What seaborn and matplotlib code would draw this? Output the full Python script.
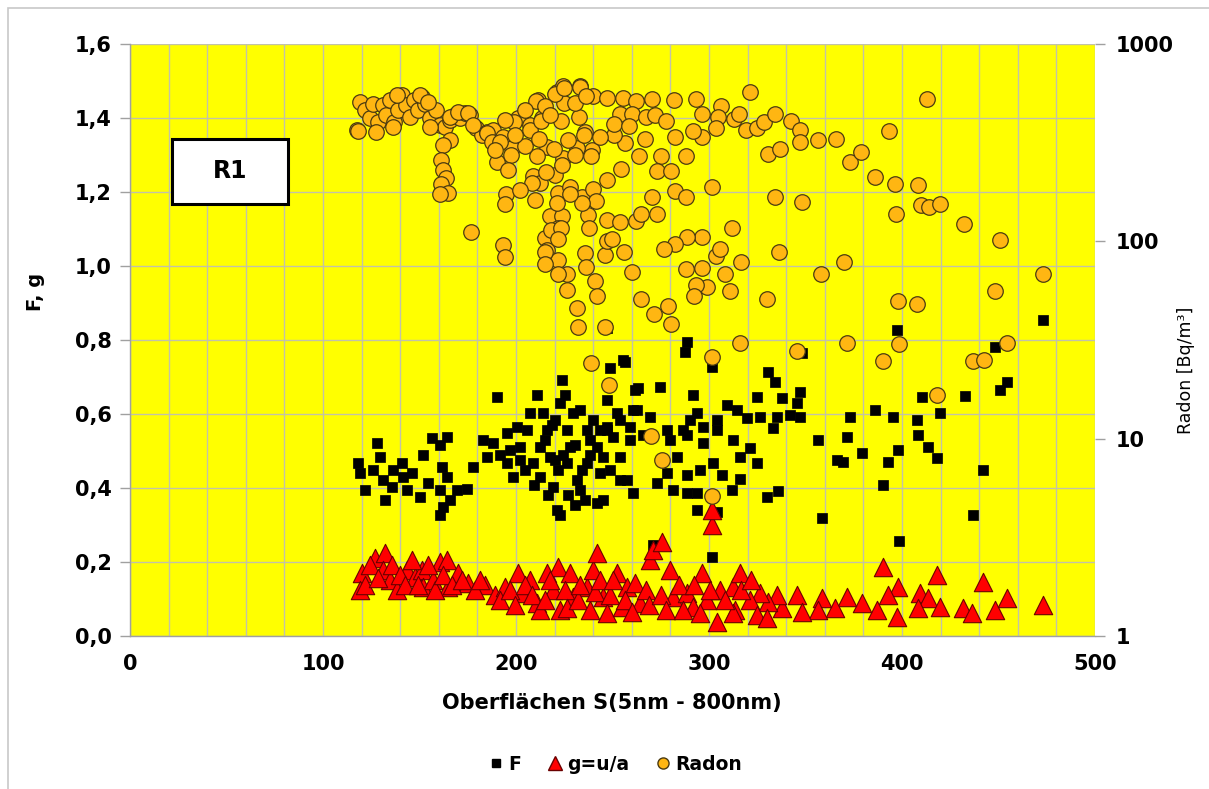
import matplotlib
matplotlib.use("Agg")
import matplotlib.pyplot as plt
from matplotlib.patches import Rectangle
from matplotlib.lines import Line2D
from matplotlib.ticker import FixedLocator, MultipleLocator, FuncFormatter, NullFormatter
import seaborn as sns
import pandas as pd

# ---------------- data ----------------
radon_x = [117.6,119.2,121.8,124.4,125.9,128.5,131.1,132.6,134.7,136.8,138.9,140.9,143.0,145.1,147.2,149.2,151.3,152.8,155.4,158.5,
           160.6,163.2,165.8,168.4,171.0,173.6,176.2,179.3,182.4,185.0,188.1,
           118.1,127.5,136.3,138.3,150.3,154.4,155.4,165.8,170.0,175.1,177.7,185.0,187.6,193.3,197.9,201.0,207.3,211.4,213.5,
           221.2,224.4,233.2,235.8,239.4,231.6,224.4,216.1,208.8,212.4,220.2,221.8,228.0,234.2,237.3,217.6,223.8,221.8,215.0,216.1,
           221.8,226.4,235.8,231.6,240.9,
           165.8,162.2,161.1,162.2,163.7,161.1,164.8,160.6,190.2,194.8,176.7,193.3,
           321.2,413.0,393.3,356.5,365.8,330.6,336.8,373.0,378.8,386.0,396.4,408.3,334.2,348.2,396.9,409.8,414.0,419.7,432.1,450.8,
           301.6,311.9,336.3,370.0,358.0,473.0,448.2,397.9,407.8,330.0,310.9,316.6,308.3,303.6,305.7,299.0,293.3,292.2,296.4,288.1,
           296.4,288.6,282.4,276.7,260.1,256.0,246.1,236.3,226.4,221.8,242.0,264.8,271.5,278.8,280.3,232.1,246.1,194.3,194.3,215.0,
           215.0,218.1,223.3,221.8,237.8,247.2,253.9,262.2,264.8,247.2,249.7,270.5,273.1,282.4,288.1,
           306.2,304.7,313.0,315.5,319.2,324.9,328.5,334.2,342.5,347.2,347.2,296.4,296.4,291.7,303.6,282.4,288.1,275.1,273.1,280.3,
           263.7,266.8,254.4,256.5,250.8,243.5,235.2,238.9,247.2,239.9,241.5,234.2,228.0,221.2,208.3,215.5,223.8,230.6,226.9,219.7,
           210.9,204.7,197.4,191.7,199.0,207.3,211.9,213.0,223.3,232.6,224.9,220.2,224.9,233.2,239.9,247.2,255.4,262.2,270.5,281.9,
           293.3,253.9,260.1,267.4,272.0,277.7,250.8,258.5,210.4,215.0,230.6,236.3,
           195.9,202.0,209.8,199.5,204.7,217.6,194.3,189.1,
           248.2,238.9,270.0,275.6,301.6,301.6,316.1,345.6,371.5,390.2,398.4,418.1,436.8,442.5,454.4]
radon_v = [367,509,463,422,497,403,491,437,521,403,463,552,491,427,521,463,540,497,422,463,
           389,380,412,437,422,448,437,376,346,358,367,
           363,358,380,552,552,509,380,427,453,448,389,354,319,338,298,422,389,521,422,
           572,615,615,358,291,298,264,301,215,198,217,176,189,168,136,134,134,117,104,90,
           80,68,87,46,63,
           326,308,259,230,210,195,176,174,253,174,112,96,
           572,527,363,326,330,277,294,253,284,212,195,193,168,158,138,153,149,155,122,102,
           189,117,88,79,68,68,56,50,48,51,56,79,68,84,91,59,60,53,73,72,
           105,105,97,91,70,88,85,74,57,68,53,51,43,47,38,37,37,83,155,88,
           77,114,117,103,117,128,125,127,138,100,103,168,138,180,168,
           486,427,417,442,367,376,403,442,408,367,319,442,338,363,376,338,271,271,228,228,
           271,330,233,315,346,338,346,271,205,184,160,157,174,157,198,225,244,274,326,294,
           271,305,274,319,403,367,330,408,408,427,503,559,600,606,546,533,533,515,527,521,
           527,442,442,427,437,408,394,385,515,486,503,546,
           230,182,162,346,463,437,412,291,
           18.7,24.2,10.3,7.8,5.1,26,30.5,27.8,30.5,24.8,30.2,16.7,24.8,25,30.5]

f_x = [118.1,119.2,121.8,128.0,129.5,125.9,131.1,132.1,135.8,136.3,140.9,141.5,143.5,146.1,150.3,151.8,154.4,156.5,160.6,164.2,
       161.7,164.2,160.6,162.2,165.8,160.6,169.4,174.6,177.7,182.9,185.0,188.1,190.2,195.3,195.3,198.4,200.5,202.1,205.7,207.3,
       208.8,212.4,212.4,214.0,216.1,217.6,219.2,221.2,222.8,223.8,226.4,226.4,228.0,229.5,231.6,233.2,236.8,236.8,239.9,242.0,
       243.5,242.0,247.2,247.2,248.7,252.3,253.9,255.4,257.5,259.1,260.6,261.7,262.7,
       247.2,256.5,288.6,287.6,301.6,263.2,274.6,291.7,324.9,330.6,334.2,337.8,347.2,345.6,347.2,342.0,326.4,319.7,309.3,314.5,
       304.1,293.8,290.2,296.9,286.5,278.2,269.4,260.6,253.9,247.2,250.3,259.1,265.8,279.8,288.6,296.9,304.1,312.4,321.2,333.2,
       335.2,324.9,316.1,306.7,316.1,311.9,302.1,295.3,288.6,283.4,278.2,273.1,281.3,288.6,293.8,293.8,304.1,253.9,248.7,245.1,
       245.1,330.0,335.8,356.5,371.5,373.0,379.3,366.3,369.4,386.0,395.3,397.9,392.7,390.2,358.5,397.4,410.4,407.8,408.3,413.5,
       418.1,419.7,432.6,442.0,436.8,398.4,448.2,450.8,454.4,473.0,301.6,271.0,348.2,
       215.0,218.7,221.8,224.4,230.6,234.2,238.3,220.2,216.6,209.3,204.7,226.9,235.8,230.6,222.8,202.0,191.7,196.9,238.3,243.5,
       233.2,225.5,220.2,210.9]
f_v = [0.468,0.441,0.395,0.522,0.484,0.449,0.422,0.368,0.403,0.449,0.468,0.430,0.395,0.441,0.376,0.489,0.414,0.535,0.516,0.538,
       0.457,0.430,0.395,0.349,0.368,0.327,0.395,0.397,0.457,0.530,0.484,0.522,0.646,0.549,0.468,0.430,0.565,0.511,0.557,0.603,
       0.468,0.511,0.430,0.603,0.557,0.484,0.403,0.341,0.630,0.692,0.557,0.468,0.511,0.603,0.422,0.395,0.557,0.468,0.584,0.511,
       0.441,0.359,0.638,0.557,0.724,0.603,0.484,0.746,0.422,0.530,0.386,0.665,0.611,
       0.832,0.741,0.795,0.768,0.727,0.670,0.673,0.651,0.646,0.714,0.686,0.643,0.659,0.630,0.592,0.597,0.592,0.589,0.624,0.611,
       0.584,0.603,0.584,0.565,0.557,0.557,0.592,0.611,0.584,0.565,0.538,0.565,0.543,0.530,0.543,0.522,0.557,0.530,0.508,0.562,
       0.592,0.468,0.484,0.435,0.424,0.395,0.468,0.449,0.435,0.484,0.441,0.414,0.395,0.386,0.386,0.341,0.335,0.422,0.449,0.484,
       0.368,0.376,0.392,0.530,0.538,0.592,0.495,0.476,0.470,0.611,0.592,0.503,0.470,0.408,0.319,0.827,0.646,0.584,0.543,0.511,
       0.481,0.603,0.649,0.449,0.327,0.257,0.781,0.665,0.686,0.854,0.214,0.246,0.765,
       0.530,0.570,0.449,0.489,0.516,0.449,0.489,0.476,0.381,0.408,0.449,0.381,0.368,0.354,0.327,0.476,0.489,0.503,0.530,0.557,
       0.611,0.651,0.584,0.651]

g_x = [120.2,119.2,126.9,132.1,131.1,134.7,138.3,143.5,147.7,151.3,151.8,157.0,160.6,164.2,164.8,169.9,175.1,183.9,189.1,194.3,
       201.0,203.1,207.3,210.9,212.4,216.1,219.2,221.8,222.8,228.0,229.5,236.8,239.9,242.0,245.1,247.2,252.3,254.9,257.5,261.7,
       264.2,269.4,271.0,275.6,279.8,281.3,288.6,291.7,296.4,299.0,301.6,301.6,304.1,305.7,312.4,313.5,316.1,
       390.2,418.1,442.0,397.9,392.7,409.3,413.5,408.3,419.7,397.4,387.0,379.3,371.5,365.3,358.5,356.5,345.6,337.8,348.2,335.2,
       330.6,326.4,321.2,324.9,330.0,312.4,431.6,436.3,448.2,454.4,473.0,
       121.8,124.4,128.5,135.8,140.0,142.5,146.1,149.2,154.4,158.0,162.2,166.8,172.0,178.8,181.3,
       191.7,196.9,199.5,204.7,208.3,215.0,217.6,225.6,226.4,232.1,233.2,238.3,240.9,243.5,248.7,250.3,256.5,260.1,267.4,269.0,
       275.1,277.7,284.4,286.5,292.2,295.3,300.5,308.3,316.6,321.8]
g_v = [0.170,0.124,0.211,0.224,0.178,0.151,0.124,0.178,0.159,0.178,0.132,0.151,0.200,0.205,0.132,0.170,0.143,0.138,0.111,0.132,
       0.170,0.116,0.151,0.089,0.070,0.170,0.124,0.186,0.070,0.170,0.105,0.132,0.178,0.224,0.105,0.062,0.170,0.078,0.132,0.143,
       0.089,0.205,0.232,0.254,0.178,0.105,0.116,0.078,0.170,0.097,0.300,0.341,0.038,0.124,0.132,0.070,0.170,
       0.186,0.165,0.146,0.132,0.111,0.116,0.103,0.076,0.078,0.051,0.070,0.089,0.105,0.076,0.103,0.070,0.111,0.076,0.065,0.111,
       0.092,0.116,0.097,0.057,0.049,0.062,0.076,0.062,0.070,0.103,0.084,
       0.138,0.192,0.157,0.192,0.165,0.138,0.205,0.138,0.192,0.124,0.165,0.138,0.151,0.124,0.151,
       0.097,0.124,0.084,0.138,0.111,0.097,0.151,0.124,0.076,0.097,0.138,0.070,0.119,0.151,0.111,0.151,0.097,0.065,0.124,0.084,
       0.111,0.070,0.138,0.070,0.138,0.062,0.124,0.097,0.124,0.151]

x_ticks = [0, 100, 200, 300, 400, 500]
left_ticks = [0.0, 0.2, 0.4, 0.6, 0.8, 1.0, 1.2, 1.4, 1.6]
right_ticks = [1, 10, 100, 1000]
legend_labels = ["F", "g=u/a", "Radon"]
box_label = "R1"

# ---------------- styling ----------------
sns.set_style("white")
plt.rcParams['font.family'] = ['DejaVu Sans']
plt.rcParams['text.color'] = 'black'
plt.rcParams['axes.labelcolor'] = 'black'

YELLOW = "#FFFF00"
GRID = "#C2C2A8"
AXC = "#A0A0A0"
ORANGE = "#FFB612"
OEDGE = "#4A3A10"

fig = plt.figure(figsize=(12.09, 7.89), dpi=100)
ax = fig.add_axes([130/1209, 1-636/789, 965/1209, 592/789])
ax.set_facecolor(YELLOW)

df_f = pd.DataFrame({"x": f_x, "v": f_v})
df_g = pd.DataFrame({"x": g_x, "v": g_v})
df_r = pd.DataFrame({"x": radon_x, "v": radon_v})

sns.scatterplot(data=df_f, x="x", y="v", ax=ax, marker="s", s=62, color="black",
                edgecolor="black", linewidth=0.5, zorder=3, legend=False)
sns.scatterplot(data=df_g, x="x", y="v", ax=ax, marker="^", s=175, color="#FF0000",
                edgecolor="#6A0000", linewidth=0.8, zorder=4, legend=False)

ax.set_xlim(0, 500)
ax.set_ylim(0, 1.6)
ax.xaxis.set_major_locator(FixedLocator(x_ticks))
ax.xaxis.set_minor_locator(MultipleLocator(20))
ax.yaxis.set_major_locator(FixedLocator(left_ticks))
ax.yaxis.set_major_formatter(FuncFormatter(lambda v, p: f"{v:.1f}".replace(".", ",")))
ax.grid(True, which="both", axis="x", color=GRID, linewidth=1.0, zorder=0)
ax.grid(True, which="major", axis="y", color=GRID, linewidth=1.0, zorder=0)
ax.set_axisbelow(True)
ax.tick_params(axis="both", which="major", direction="out", length=7, width=1, color=AXC,
               labelcolor="black", labelsize=15, pad=6)
ax.tick_params(axis="x", which="minor", length=0)
for lbl in ax.get_xticklabels() + ax.get_yticklabels():
    lbl.set_fontweight("bold")
for sp in ["top", "right"]:
    ax.spines[sp].set_visible(False)
for sp in ["left", "bottom"]:
    ax.spines[sp].set_color(AXC)
    ax.spines[sp].set_linewidth(1)

ax.set_xlabel("Oberflächen S(5nm - 800nm)", fontsize=15, fontweight="bold", color="black")
ax.xaxis.set_label_coords((612-130)/965, -(693-636)/592)
ax.set_ylabel("F, g", fontsize=14, fontweight="bold", color="black")
ax.yaxis.set_label_coords(-(130-45)/965, (636-292)/592)

# Radon on log right axis
ax2 = ax.twinx()
sns.scatterplot(data=df_r, x="x", y="v", ax=ax2, marker="o", s=125, color=ORANGE,
                edgecolor=OEDGE, linewidth=0.9, zorder=5, legend=False)
ax2.set_yscale("log")
ax2.set_ylim(1, 1000)
ax2.set_xlim(0, 500)
ax2.yaxis.set_major_locator(FixedLocator(right_ticks))
ax2.yaxis.set_major_formatter(FuncFormatter(lambda v, p: f"{int(round(v))}"))
ax2.yaxis.set_minor_formatter(NullFormatter())
ax2.tick_params(axis="y", which="major", direction="out", length=7, width=1, color=AXC,
                labelcolor="black", labelsize=15, pad=8)
ax2.tick_params(axis="y", which="minor", length=0)
for lbl in ax2.get_yticklabels():
    lbl.set_fontweight("bold")
for sp in ["top", "left", "bottom", "right"]:
    ax2.spines[sp].set_visible(False)
ax2.set_ylabel("Radon [Bq/m³]", fontsize=12.5, color="black")
ax2.yaxis.set_label_coords((1177-130)/965, (636-370)/592)
ax2.set_xlabel("")

# R1 label box
ax.add_patch(Rectangle((22, 1.168), 60, 0.175, facecolor="white", edgecolor="black",
                       linewidth=2.2, zorder=6))
ax.text(52, 1.2555, box_label, ha="center", va="center", fontsize=17, fontweight="bold",
        color="black", zorder=7)

# legend
handles = [
    Line2D([], [], linestyle="", marker="s", markersize=6, markerfacecolor="black", markeredgecolor="black"),
    Line2D([], [], linestyle="", marker="^", markersize=10, markerfacecolor="#FF0000", markeredgecolor="#6A0000"),
    Line2D([], [], linestyle="", marker="o", markersize=8, markerfacecolor=ORANGE, markeredgecolor=OEDGE),
]
leg = fig.legend(handles, legend_labels, loc="center", bbox_to_anchor=(614/1209, 1-764/789), ncol=3,
                 frameon=False, handletextpad=0.15, columnspacing=1.3, handlelength=1.0,
                 prop={"weight": "bold", "size": 13.5})
for t in leg.get_texts():
    t.set_color("black")

# figure border
fig.add_artist(Rectangle((8/1209, -0.01), 1.0, 1-8/789 + 0.01, transform=fig.transFigure,
                         facecolor="none", edgecolor="#C8C8C8", linewidth=1.2))

fig.savefig("out.png", dpi=100, facecolor="white")
